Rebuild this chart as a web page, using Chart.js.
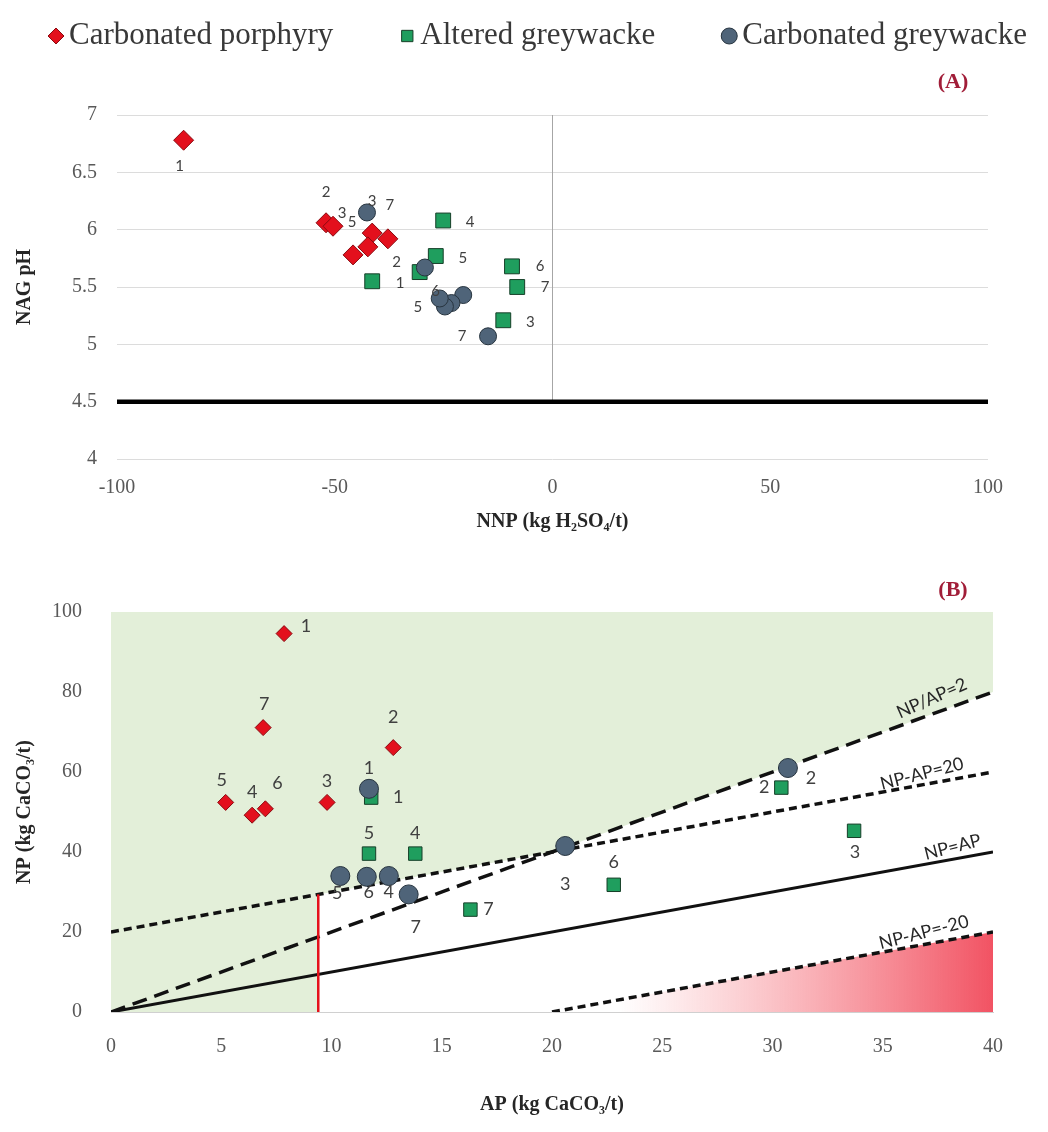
<!DOCTYPE html>
<html lang="en">
<head>
<meta charset="UTF-8">
<title>NAG pH vs NNP and NP vs AP</title>
<script src="https://cdn.jsdelivr.net/npm/chart.js@4.4.1/dist/chart.umd.min.js"></script>
<style>
    body { margin: 0; background: #fff; }
    .panel { position: absolute; left: 0; width: 1048px; }
    #panelA { top: 0; height: 550px; }
    #panelB { top: 560px; height: 572px; }
</style>
</head>
<body>
<div class="panel" id="panelA"><canvas id="nagChart"></canvas></div>
<div class="panel" id="panelB"><canvas id="abaChart"></canvas></div>
<script>
const seriesNames = ['Carbonated porphyry', 'Altered greywacke', 'Carbonated greywacke'];

// (A) NAG pH against NNP, samples 1-7 of each rock type
const porphyryNNP = [-84.7, -52.0, -50.4, -45.8, -41.4, -42.4, -37.8];
const porphyryNAG = [6.78, 6.06, 6.03, 5.78, 5.97, 5.85, 5.92];
const alteredNNP  = [-41.4, -30.5, -11.3, -25.1, -26.8, -9.3, -8.1];
const alteredNAG  = [5.55, 5.63, 5.21, 6.08, 5.77, 5.68, 5.50];
const carbGwNNP   = [-20.5, -29.3, -42.6, -23.2, -24.7, -25.9, -14.8];
const carbGwNAG   = [5.43, 5.67, 6.15, 5.36, 5.33, 5.40, 5.07];

// NAG pH 4.5 limit and the NNP = 0 divide
const limitNNP = [-100, 100];
const limitNAG = [4.5, 4.5];
const divideNNP = [0, 0];
const divideNAG = [4.5, 7];

// (B) NP against AP
const porphyryAP = [7.85, 12.8, 9.8, 6.4, 5.2, 7.0, 6.9];
const porphyryNP = [94.6, 66.1, 52.4, 49.2, 52.4, 50.8, 71.1];
const alteredAP  = [11.8, 30.4, 33.7, 13.8, 11.7, 22.8, 16.3];
const alteredNP  = [53.6, 56.1, 45.3, 39.6, 39.6, 31.8, 25.6];
const carbGwAP   = [11.7, 30.7, 20.6, 12.6, 10.4, 11.6, 13.5];
const carbGwNP   = [55.8, 61.0, 41.5, 34.0, 34.0, 33.8, 29.4];

// screening criteria lines in (B)
const ratio2AP = [0, 40],   ratio2NP = [0, 80];
const plus20AP = [0, 40],   plus20NP = [20, 60];
const equalAP = [0, 40],    equalNP = [0, 40];
const minus20AP = [20, 40], minus20NP = [0, 20];
const cutoffAP = [9.4, 9.4], cutoffNP = [0, 29.4];
// lower edge of the non acid forming zone
const safeEdgeAP = [0, 9.4, 9.4, 20, 40];
const safeEdgeNP = [0, 0, 29.4, 40, 80];

// sample numbers next to the markers
const sampleTags = ['1', '2', '3', '4', '5', '6', '7'];
const porphyryTagsA = ['1', '2', '3', '', '5', '', '7'];
const alteredTagsA  = ['1', '2', '3', '4', '5', '6', '7'];
const carbGwTagsA   = ['', '', '3', '', '5', '6', '7'];

// label offsets in px from the marker centre
const porphyryShiftA = [[-4, 26], [0, -31], [9, -13], null, [-20, -11], null, [2, -34]];
const alteredShiftA  = [[28, 2], [-23, -10], [27, 2], [27, 2], [27, 2], [28, 0], [28, 0]];
const carbGwShiftA   = [null, null, [5, -11], null, [-27, 1], [-4, -7], [-26, 0]];
const porphyryShiftB = [[22, -7], [0, -30], [0, -21], [0, -23], [-4, -22], [12, -26], [1, -23]];
const alteredShiftB  = [[27, 0], [-17, 0], [1, 21], [0, -20], [0, -20], [0, -23], [18, 0]];
const carbGwShiftB   = [[0, -21], [23, 10], [0, 38], [0, 16], [-3, 17], [2, 15], [7, 33]];

const SERIF = '"Liberation Serif", "Times New Roman", serif';
const SANS = 'Lato, "Open Sans", sans-serif';
const RED = '#e3101d', RED_EDGE = '#8a0a10';
const GREEN = '#1f9e5e', GREEN_EDGE = '#163f28';
const SLATE = '#4f6479', SLATE_EDGE = '#27343f';

function points(xs, ys) {
    return xs.map((x, i) => ({x: x, y: ys[i]}));
}

// sample numbers
const tagPlugin = {
    id: 'tagPlugin',
    afterDatasetsDraw(chart, args, opts) {
        const ctx = chart.ctx;
        ctx.save();
        ctx.font = opts.typeface;
        ctx.fillStyle = '#404040';
        ctx.textAlign = 'center';
        ctx.textBaseline = 'middle';
        chart.data.datasets.forEach((ds, di) => {
            if (!ds.tags) return;
            chart.getDatasetMeta(di).data.forEach((pt, i) => {
                const off = ds.tagShift[i];
                if (!ds.tags[i] || !off) return;
                ctx.fillText(ds.tags[i], pt.x + off[0], pt.y + off[1]);
            });
        });
        ctx.restore();
    }
};

// rotated names written along the criteria lines
const notePlugin = {
    id: 'notePlugin',
    afterDatasetsDraw(chart) {
        const ctx = chart.ctx;
        chart.data.datasets.forEach((ds, di) => {
            if (!ds.note) return;
            const pts = chart.getDatasetMeta(di).data;
            const a = pts[0], b = pts[pts.length - 1];
            const x = chart.scales.x.getPixelForValue(ds.noteAt);
            const y = a.y + (x - a.x) / (b.x - a.x) * (b.y - a.y);
            ctx.save();
            ctx.translate(x, y);
            ctx.rotate(Math.atan2(b.y - a.y, b.x - a.x) - 0.07);
            ctx.font = '18px ' + SANS;
            ctx.fillStyle = '#262626';
            ctx.textAlign = 'center';
            ctx.textBaseline = 'bottom';
            ctx.fillText(ds.note, 0, -ds.noteLift);
            ctx.restore();
        });
    }
};

// (A) / (B) tags
const panelTag = {
    id: 'panelTag',
    afterDraw(chart, args, opts) {
        const {ctx, chartArea} = chart;
        ctx.save();
        ctx.font = 'bold 22px ' + SERIF;
        ctx.fillStyle = '#a11d38';
        ctx.textAlign = 'center';
        ctx.textBaseline = 'middle';
        ctx.fillText(opts.text, chartArea.right + opts.dx, chartArea.top + opts.dy);
        ctx.restore();
    }
};

// legend row above panel A
const seriesKey = {
    id: 'seriesKey',
    afterDraw(chart, args, opts) {
        if (!opts.show) return;
        const ctx = chart.ctx;
        ctx.save();
        ctx.font = opts.typeface;
        ctx.textBaseline = 'middle';
        ctx.textAlign = 'left';
        let x = opts.left;
        chart.data.datasets.filter(ds => ds.inKey).forEach(ds => {
            ctx.fillStyle = ds.backgroundColor;
            ctx.strokeStyle = ds.borderColor;
            ctx.lineWidth = 1;
            Chart.helpers.drawPoint(ctx, {pointStyle: ds.pointStyle, radius: opts.radius, rotation: 0, borderWidth: 1}, x + opts.radius, opts.y);
            x += opts.radius * 2 + opts.gap;
            ctx.fillStyle = '#383838';
            ctx.fillText(ds.label, x, opts.y);
            x += ctx.measureText(ds.label).width + opts.spacing;
        });
        ctx.restore();
    }
};

function tickFont(size) { return {family: SERIF, size: size}; }
function titleFont(size) { return {family: SERIF, size: size, weight: 'bold'}; }

const shared = {
    responsive: true,
    maintainAspectRatio: false,
    animation: false,
    events: [],
    plugins: { legend: {display: false}, tooltip: {enabled: false} }
};

new Chart(document.getElementById('nagChart'), {
    type: 'scatter',
    data: {
        datasets: [
            {label: seriesNames[0], data: points(porphyryNNP, porphyryNAG), pointStyle: 'rectRot', pointRadius: 10,
             backgroundColor: RED, borderColor: RED_EDGE, borderWidth: 1, order: 3, inKey: true,
             tags: porphyryTagsA, tagShift: porphyryShiftA},
            {label: seriesNames[1], data: points(alteredNNP, alteredNAG), pointStyle: 'rect', pointRadius: 10.5,
             backgroundColor: GREEN, borderColor: GREEN_EDGE, borderWidth: 1, order: 2, inKey: true,
             tags: alteredTagsA, tagShift: alteredShiftA},
            {label: seriesNames[2], data: points(carbGwNNP, carbGwNAG), pointStyle: 'circle', pointRadius: 8.5,
             backgroundColor: SLATE, borderColor: SLATE_EDGE, borderWidth: 1, order: 1, inKey: true,
             tags: carbGwTagsA, tagShift: carbGwShiftA},
            {type: 'line', data: points(limitNNP, limitNAG), borderColor: '#000', borderWidth: 4.5,
             pointRadius: 0, order: 5},
            {type: 'line', data: points(divideNNP, divideNAG), borderColor: '#a6a6a6', borderWidth: 1,
             pointRadius: 0, order: 6}
        ]
    },
    options: {
        ...shared,
        layout: {padding: {top: 115, right: 60, left: 0, bottom: 0}},
        plugins: {
            ...shared.plugins,
            tagPlugin: {typeface: '15px ' + SANS},
            panelTag: {text: '(A)', dx: -35, dy: -33},
            seriesKey: {show: true, typeface: '31px ' + SERIF, left: 48, y: 36, radius: 8, gap: 5, spacing: 66}
        },
        scales: {
            x: {
                type: 'linear', min: -100, max: 100,
                ticks: {stepSize: 50, padding: 9, color: '#595959', font: tickFont(20)},
                grid: {display: false},
                border: {display: false},
                title: {display: true, text: 'NNP (kg H₂SO₄/t)', color: '#262626', font: titleFont(20), padding: {bottom: 16}},
                afterFit: s => { s.height = 91; }
            },
            y: {
                min: 4, max: 7,
                ticks: {stepSize: 0.5, padding: 20, color: '#595959', font: tickFont(20), callback: v => String(v)},
                grid: {color: '#dcdcdc', drawTicks: false},
                border: {display: false},
                title: {display: true, text: 'NAG pH', color: '#262626', font: titleFont(20), padding: {top: 13}},
                afterFit: s => { s.width = 117; }
            }
        }
    },
    plugins: [tagPlugin, panelTag, seriesKey]
});

new Chart(document.getElementById('abaChart'), {
    type: 'scatter',
    data: {
        datasets: [
            {label: seriesNames[0], data: points(porphyryAP, porphyryNP), pointStyle: 'rectRot', pointRadius: 8,
             backgroundColor: RED, borderColor: RED_EDGE, borderWidth: 1, order: 3,
             tags: sampleTags, tagShift: porphyryShiftB},
            {label: seriesNames[1], data: points(alteredAP, alteredNP), pointStyle: 'rect', pointRadius: 9.5,
             backgroundColor: GREEN, borderColor: GREEN_EDGE, borderWidth: 1, order: 2,
             tags: sampleTags, tagShift: alteredShiftB},
            {label: seriesNames[2], data: points(carbGwAP, carbGwNP), pointStyle: 'circle', pointRadius: 9.5,
             backgroundColor: SLATE, borderColor: SLATE_EDGE, borderWidth: 1, order: 1,
             tags: sampleTags, tagShift: carbGwShiftB},
            {type: 'line', data: points(ratio2AP, ratio2NP), borderColor: '#111', borderWidth: 3.5,
             borderDash: [15, 8], pointRadius: 0, order: 5, note: 'NP/AP=2', noteAt: 37.5, noteLift: 6},
            {type: 'line', data: points(plus20AP, plus20NP), borderColor: '#111', borderWidth: 3.5,
             borderDash: [8, 5], pointRadius: 0, order: 5, note: 'NP-AP=20', noteAt: 36.9, noteLift: 2},
            {type: 'line', data: points(equalAP, equalNP), borderColor: '#111', borderWidth: 3,
             pointRadius: 0, order: 5, note: 'NP=AP', noteAt: 38.3, noteLift: 3},
            {type: 'line', data: points(minus20AP, minus20NP), borderColor: '#111', borderWidth: 3.5,
             borderDash: [8, 5], pointRadius: 0, order: 6, note: 'NP-AP=-20', noteAt: 37.0, noteLift: 3,
             fill: 'origin',
             backgroundColor: c => {
                 const {chart} = c;
                 if (!chart.chartArea) return 'transparent';
                 const sx = chart.scales.x;
                 const g = chart.ctx.createLinearGradient(sx.getPixelForValue(23), 0, sx.getPixelForValue(40), 0);
                 g.addColorStop(0, 'rgba(246, 110, 118, 0)');
                 g.addColorStop(1, 'rgba(240, 64, 82, 0.9)');
                 return g;
             }},
            {type: 'line', data: points(cutoffAP, cutoffNP), borderColor: '#e4121b', borderWidth: 2.5,
             pointRadius: 0, order: 4},
            {type: 'line', data: points(safeEdgeAP, safeEdgeNP), borderWidth: 0, pointRadius: 0,
             fill: 'end', backgroundColor: '#e3efd9', order: 10}
        ]
    },
    options: {
        ...shared,
        layout: {padding: {top: 52, right: 55, left: 0, bottom: 0}},
        plugins: {
            ...shared.plugins,
            tagPlugin: {typeface: '18px ' + SANS},
            panelTag: {text: '(B)', dx: -40, dy: -22}
        },
        scales: {
            x: {
                type: 'linear', min: 0, max: 40,
                ticks: {stepSize: 5, padding: 15, color: '#595959', font: tickFont(20)},
                grid: {display: false},
                border: {display: true, color: '#d0d0d0'},
                title: {display: true, text: 'AP (kg CaCO₃/t)', color: '#262626', font: titleFont(20), padding: {bottom: 15}},
                afterFit: s => { s.height = 120; }
            },
            y: {
                min: 0, max: 100,
                ticks: {stepSize: 20, padding: 21, color: '#595959', font: tickFont(20)},
                grid: {display: false},
                border: {display: false},
                title: {display: true, text: 'NP (kg CaCO₃/t)', color: '#262626', font: titleFont(20), padding: {top: 13}},
                afterFit: s => { s.width = 111; }
            }
        }
    },
    plugins: [tagPlugin, notePlugin, panelTag]
});
</script>
</body>
</html>
